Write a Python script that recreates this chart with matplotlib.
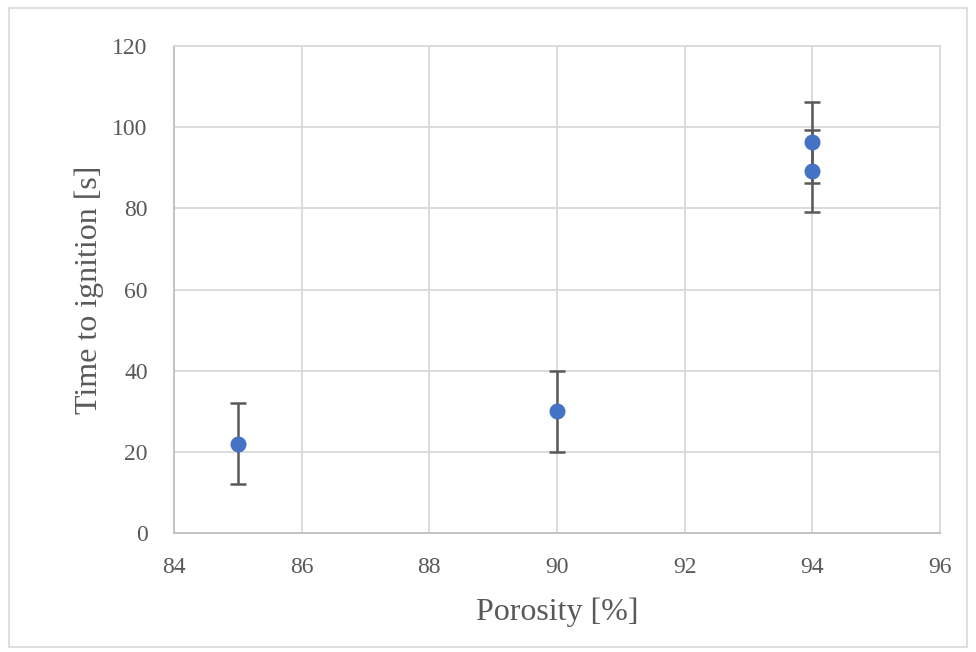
import matplotlib.pyplot as plt
from matplotlib.patches import Rectangle

# porosity vs. ignition time, with +/- 10 s error bars
porosity = [85, 90, 94, 94]
ignition_time = [22, 30, 96.3, 89.2]
error = [10, 10, 10, 10]

x_ticks = [84, 86, 88, 90, 92, 94, 96]
y_ticks = [0, 20, 40, 60, 80, 100, 120]

plt.rcParams['font.family'] = ['Liberation Serif', 'DejaVu Serif']

fig = plt.figure(figsize=(9.76, 6.52), dpi=100)
ax = fig.add_axes([0.1783, 0.1825, 0.7848, 0.7469])

# light frame around the whole chart
fig.patches.append(Rectangle((0.009, 0.008), 0.982, 0.979, transform=fig.transFigure,
                             fill=False, edgecolor='#d9d9d9', linewidth=1.2))

ax.errorbar(porosity, ignition_time, yerr=error, fmt='o', color='#4472C4',
            markersize=10.5, ecolor='#595959', elinewidth=1.8, capsize=5.5,
            capthick=1.8, zorder=3)

ax.set_xlim(84, 96)
ax.set_ylim(0, 120)
ax.set_xticks(x_ticks)
ax.set_yticks(y_ticks)
ax.grid(True, color='#d9d9d9', linewidth=1.3)
ax.set_axisbelow(True)
for side in ['top', 'right']:
    ax.spines[side].set_color('#d9d9d9')
    ax.spines[side].set_linewidth(1.3)
for side in ['left', 'bottom']:
    ax.spines[side].set_color('#bfbfbf')
    ax.spines[side].set_linewidth(1.3)
ax.tick_params(length=0, labelsize=17, labelcolor='#595959')
ax.tick_params(axis='x', pad=17)
ax.tick_params(axis='y', pad=19)

ax.set_xlabel('Porosity [%]', fontsize=23, color='#595959', labelpad=14)
ax.set_ylabel('Time to ignition [s]', fontsize=23, color='#595959', labelpad=6)

fig.savefig('out.png', dpi=100)
